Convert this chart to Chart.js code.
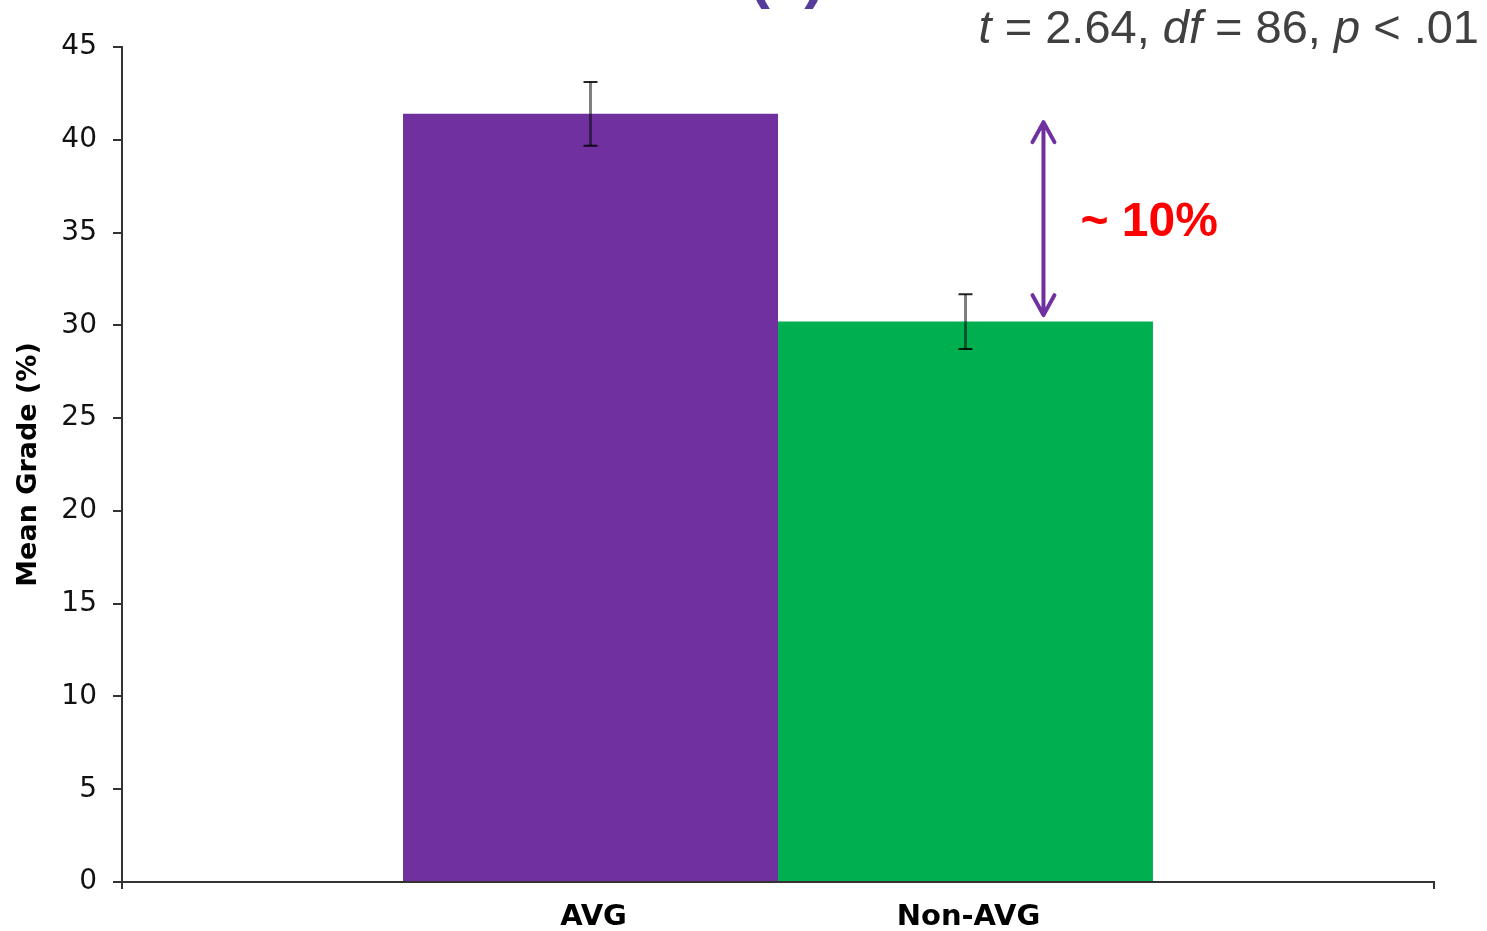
<!DOCTYPE html>
<html>
<head>
<meta charset="utf-8">
<script src="https://cdn.jsdelivr.net/npm/chart.js"></script>
<style>
  html, body { margin: 0; padding: 0; background: #fff; }
  canvas { display: block; }
</style>
</head>
<body>
<canvas id="grades" width="1487" height="931"></canvas>
<script>
  // values
  const groups = ['AVG', 'Non-AVG'];
  const meanGrade = [41.4, 30.2];
  const errGrade = [1.72, 1.48];
  const barColors = ['#7030a0', '#00b050'];
  const yMin = 0, yMax = 45, yStep = 5;
  const gapEnds = [40.95, 30.55];   // the ~10% arrow, in grade units
  const gapLabel = '~ 10%';
  const statParts = [['t', true], [' = 2.64, ', false], ['df', true], [' = 86, ', false], ['p', true], [' < .01', false]];
  const slideTitle = 'ACADEMIC PERFORMANCE (2)';

  /*** error bars on top of each bar ***/
  const errorBars = {
    id: 'errorBars',
    afterDatasetsDraw(chart) {
      const ctx = chart.ctx;
      const y = chart.scales.y;
      chart.data.datasets.forEach((ds, i) => {
        const bar = chart.getDatasetMeta(i).data[0];
        const hi = y.getPixelForValue(meanGrade[i] + errGrade[i]);
        const lo = y.getPixelForValue(meanGrade[i] - errGrade[i]);
        ctx.save();
        ctx.strokeStyle = 'rgba(0,0,0,0.5)';
        ctx.lineWidth = 3;
        ctx.beginPath();
        ctx.moveTo(bar.x, hi);
        ctx.lineTo(bar.x, lo);
        ctx.stroke();
        ctx.strokeStyle = 'rgba(0,0,0,0.85)';
        ctx.lineWidth = 2;
        ctx.beginPath();
        ctx.moveTo(bar.x - 7, hi); ctx.lineTo(bar.x + 7, hi);
        ctx.moveTo(bar.x - 7, lo); ctx.lineTo(bar.x + 7, lo);
        ctx.stroke();
        ctx.restore();
      });
    }
  };

  /*** texts and the arrow ***/
  const extras = {
    id: 'extras',
    afterDraw(chart) {
      const ctx = chart.ctx;
      const y = chart.scales.y;
      ctx.save();

      // group names under the bars
      ctx.fillStyle = '#000';
      ctx.font = 'bold 29px "DejaVu Sans"';
      ctx.textAlign = 'center';
      ctx.textBaseline = 'middle';
      groups.forEach((g, i) => {
        const bar = chart.getDatasetMeta(i).data[0];
        ctx.fillText(g, bar.x + 3, 917);
      });

      // slide title, cut by the top edge
      ctx.fillStyle = '#553c9a';
      ctx.font = 'bold 62px "Liberation Sans"';
      ctx.textAlign = 'right';
      ctx.textBaseline = 'alphabetic';
      ctx.fillText(slideTitle, 825, -4);

      // t statistic
      ctx.fillStyle = '#404040';
      ctx.textAlign = 'left';
      const fontOf = it => (it ? 'italic ' : '') + '47px "Liberation Sans"';
      let total = 0;
      statParts.forEach(([s, it]) => { ctx.font = fontOf(it); total += ctx.measureText(s).width; });
      let x = 1479 - total;
      statParts.forEach(([s, it]) => {
        ctx.font = fontOf(it);
        ctx.fillText(s, x, 43);
        x += ctx.measureText(s).width;
      });

      // double arrow between the two means
      const nb = chart.getDatasetMeta(1).data[0];
      const ax = nb.x + nb.width * 0.2 + 3;
      const top = y.getPixelForValue(gapEnds[0]);
      const bot = y.getPixelForValue(gapEnds[1]);
      ctx.strokeStyle = '#7030a0';
      ctx.lineWidth = 4;
      ctx.lineCap = 'round';
      ctx.lineJoin = 'round';
      ctx.beginPath();
      ctx.moveTo(ax, top + 2);
      ctx.lineTo(ax, bot - 2);
      ctx.moveTo(ax - 11, top + 20); ctx.lineTo(ax, top); ctx.lineTo(ax + 11, top + 20);
      ctx.moveTo(ax - 11, bot - 20); ctx.lineTo(ax, bot); ctx.lineTo(ax + 11, bot - 20);
      ctx.stroke();

      ctx.fillStyle = '#ff0000';
      ctx.font = 'bold 48px "Liberation Sans"';
      ctx.textBaseline = 'middle';
      ctx.fillText(gapLabel, ax + 37, (top + bot) / 2 + 4);

      ctx.restore();
    }
  };

  const yTicks = [];
  for (let v = yMin; v <= yMax; v += yStep) yTicks.push(v);

  new Chart(document.getElementById('grades'), {
    type: 'bar',
    data: {
      labels: [''],
      datasets: groups.map((g, i) => ({
        label: g,
        data: [meanGrade[i]],
        backgroundColor: barColors[i],
        borderWidth: 0,
        categoryPercentage: 0.5716,
        barPercentage: 1
      }))
    },
    options: {
      responsive: false,
      animation: false,
      devicePixelRatio: 1,
      layout: { padding: { top: 47, right: 53, left: 0, bottom: 0 } },
      plugins: {
        legend: { display: false },
        tooltip: { enabled: false }
      },
      scales: {
        x: {
          grid: { drawOnChartArea: false, drawTicks: true, tickLength: 7, color: '#333', lineWidth: 2, offset: true },
          border: { color: '#333', width: 2 },
          ticks: { display: false },
          afterFit(s) { s.height = 49; }
        },
        y: {
          min: yMin,
          max: yMax,
          afterBuildTicks(s) { s.ticks = yTicks.map(v => ({ value: v })); },
          ticks: { color: '#111', font: { family: 'DejaVu Sans', size: 28 }, padding: 16 },
          grid: { drawOnChartArea: false, tickLength: 9, color: '#333', lineWidth: 2 },
          border: { color: '#333', width: 2 },
          title: {
            display: true,
            text: 'Mean Grade (%)',
            color: '#000',
            font: { family: 'DejaVu Sans', weight: 'bold', size: 27 },
            padding: { top: 13, bottom: 0 }
          },
          afterFit(s) { s.width = 122; }
        }
      }
    },
    plugins: [errorBars, extras]
  });
</script>
</body>
</html>
